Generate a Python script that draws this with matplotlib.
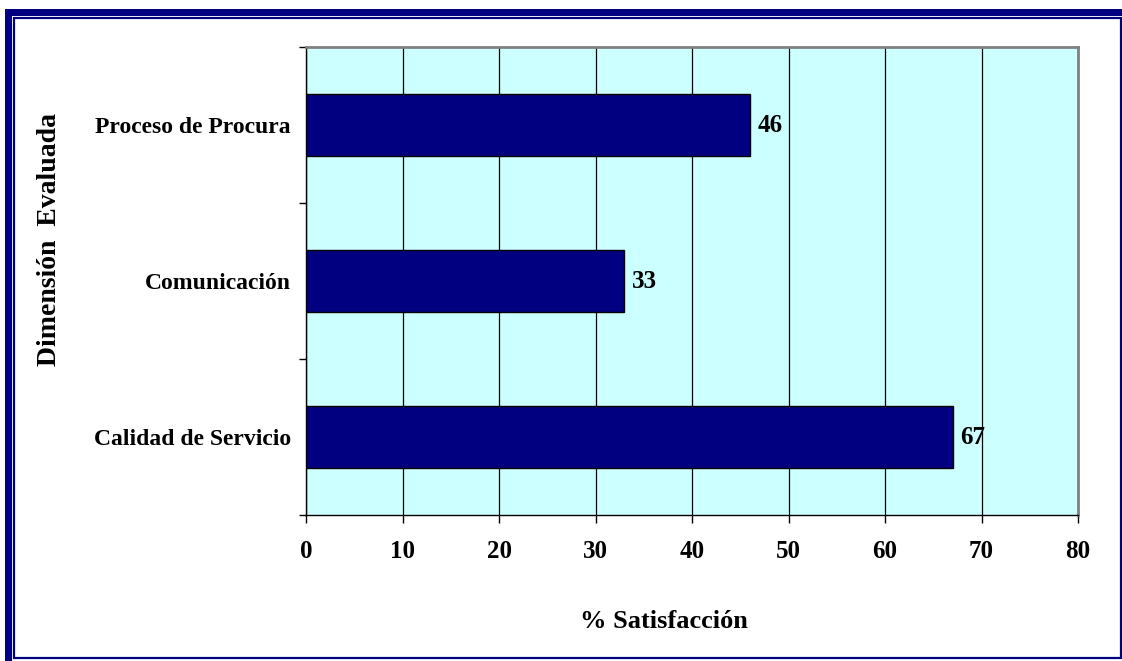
import matplotlib.pyplot as plt
from matplotlib.patches import Rectangle

categorias = ["Calidad de Servicio", "Comunicación", "Proceso de Procura"]
valores = [67, 33, 46]
xticks = [0, 10, 20, 30, 40, 50, 60, 70, 80]

W, H = 1122, 661
fig = plt.figure(figsize=(W / 100, H / 100), dpi=100)
plt.rcParams['font.family'] = ['Liberation Serif', 'DejaVu Serif']

# marco exterior (pixeles -> fraccion de figura)
def px_rect(x0, y0, x1, y1, **kw):
    fig.patches.append(Rectangle((x0 / W, 1 - y1 / H), (x1 - x0) / W, (y1 - y0) / H,
                                 transform=fig.transFigure, figure=fig, **kw))

px_rect(5, 9, W, 15.5, color='#000080', lw=0)
px_rect(5, 9, 12, H, color='#000080', lw=0)
px_rect(14, 18, 1120.5, 658, fill=False, ec='#000080', lw=1.6)

l, r, t, b = 306, 1078, 47, 515
ax = fig.add_axes([l / W, 1 - b / H, (r - l) / W, (b - t) / H])
ax.set_facecolor('#CCFFFF')

pos = range(len(categorias))
ax.barh(pos, valores, height=0.4, color='#000080', edgecolor='black', lw=1, zorder=3)
for p, v in zip(pos, valores):
    ax.annotate(str(v), (v, p), xytext=(5.5, 0), textcoords='offset points',
                va='center', ha='left', fontsize=18, fontweight='bold', zorder=4)

ax.set_xlim(0, 80)
ax.set_ylim(-0.5, 2.5)
ax.set_xticks(xticks)
ax.xaxis.grid(True, color='black', lw=0.9)
ax.set_axisbelow(True)

ax.set_yticks([-0.5, 0.5, 1.5, 2.5])
ax.set_yticklabels([])
ax.set_yticks(list(pos), minor=True)
ax.set_yticklabels(categorias, minor=True, fontsize=17, fontweight='bold')
ax.tick_params(axis='y', which='minor', length=0, pad=11)
ax.tick_params(axis='y', which='major', length=5, width=1, direction='out')
ax.tick_params(axis='x', length=6, width=1, direction='out', pad=12,
               labelsize=18)
for lab in ax.get_xticklabels():
    lab.set_fontweight('bold')

for s in ['top', 'right']:
    ax.spines[s].set_color('#808080')
    ax.spines[s].set_linewidth(2)
for s in ['left', 'bottom']:
    ax.spines[s].set_color('black')
    ax.spines[s].set_linewidth(1)

fig.text(664 / W, 1 - 622 / H, '% Satisfacción', ha='center', va='center',
         fontsize=19, fontweight='bold')
fig.text(50 / W, 1 - 240 / H, 'Dimensión  Evaluada', ha='center', va='center',
         rotation=90, fontsize=20, fontweight='bold')

fig.savefig('out.png', dpi=100)
